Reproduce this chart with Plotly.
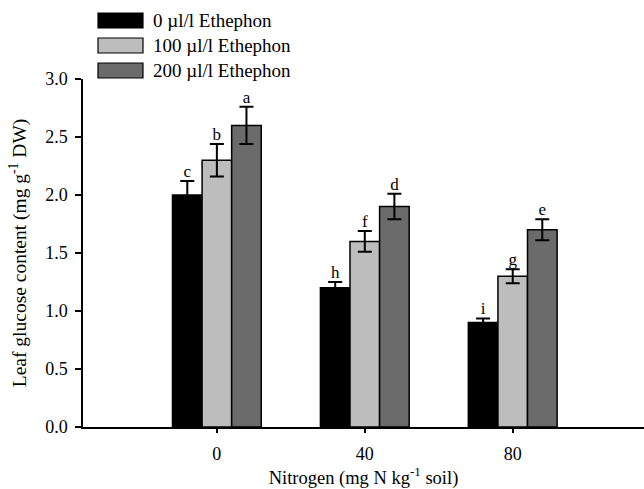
import plotly.graph_objects as go

nitrogen = [0, 40, 80]
series_names = ["0 µl/l Ethephon", "100 µl/l Ethephon", "200 µl/l Ethephon"]
eth0 = [2.00, 1.20, 0.90]
eth100 = [2.30, 1.60, 1.30]
eth200 = [2.60, 1.90, 1.70]
err0 = [0.12, 0.05, 0.035]
err100 = [0.14, 0.09, 0.06]
err200 = [0.16, 0.11, 0.09]
letters0 = ["c", "h", "i"]
letters100 = ["b", "f", "g"]
letters200 = ["a", "d", "e"]
ytick_vals = [0.0, 0.5, 1.0, 1.5, 2.0, 2.5, 3.0]
xtick_vals = [0, 40, 80]

colors = ["#000000", "#bdbdbd", "#6b6b6b"]
W, H = 644, 489
ml, mr, mt, mb = 83, 0, 79, 62
bar_w = 8
offsets = [-12, -4, 4]
FONT = "Liberation Serif"

fig = go.Figure()
values = [eth0, eth100, eth200]
errs = [err0, err100, err200]
letters = [letters0, letters100, letters200]
for i in range(3):
    fig.add_trace(go.Bar(
        x=nitrogen, y=values[i], name=series_names[i],
        width=bar_w, offset=offsets[i],
        marker=dict(color=colors[i], line=dict(color="#000000", width=1.5)),
        error_y=dict(type="data", array=errs[i], color="#000000", thickness=2, width=7),
        showlegend=False,
    ))
    fig.add_trace(go.Scatter(
        x=[n + offsets[i] + bar_w / 2 for n in nitrogen],
        y=[v + e for v, e in zip(values[i], errs[i])],
        mode="text", text=letters[i], textposition="top center",
        textfont=dict(family=FONT, size=17, color="#000000"),
        showlegend=False, hoverinfo="skip", cliponaxis=False,
    ))

pw = W - ml - mr
ph = H - mt - mb
def px2paper(px, py):
    return (px - ml) / pw, (H - mb - py) / ph

# custom legend (large swatches)
for i, name in enumerate(series_names):
    top = 13 + 25 * i
    x0, y0 = px2paper(98, top + 15)
    x1, y1 = px2paper(143, top)
    fig.add_shape(type="rect", xref="paper", yref="paper", x0=x0, y0=y0, x1=x1, y1=y1,
                  fillcolor=colors[i], line=dict(color="#000000", width=1.2))
    tx, ty = px2paper(151, top + 7.5)
    fig.add_annotation(xref="paper", yref="paper", x=tx, y=ty, text=name, showarrow=False,
                       xanchor="left", yanchor="middle",
                       font=dict(family=FONT, size=19, color="#000000"))

fig.update_layout(
    width=W, height=H,
    margin=dict(l=ml, r=mr, t=mt, b=mb, pad=0),
    plot_bgcolor="white", paper_bgcolor="white",
    font=dict(family=FONT, size=18, color="#000000"),
    showlegend=False,
    xaxis=dict(range=[-36.2, 115.5], tickvals=xtick_vals, ticktext=[str(v) for v in xtick_vals],
               showline=True, linecolor="#000000", linewidth=1.5, ticks="outside", ticklen=4,
               tickwidth=1.5, tickcolor="#000000", showgrid=False,
               zeroline=False, ticklabelstandoff=6,
               title=dict(text="Nitrogen (mg N kg<sup>-1</sup> soil)", standoff=8,
                          font=dict(family=FONT, size=18.5))),
    yaxis=dict(range=[0, 3], tickvals=ytick_vals, ticktext=[f"{v:.1f}" for v in ytick_vals],
               showline=True, linecolor="#000000", linewidth=1.5, ticks="outside", ticklen=6,
               tickwidth=1.5, tickcolor="#000000", showgrid=False, zeroline=False,
               ticklabelstandoff=4,
               title=dict(text="Leaf glucose content (mg g<sup>-1</sup> DW)", standoff=13,
                          font=dict(family=FONT, size=19.5))),
)
fig.write_html("out.html", config={"displayModeBar": False},
               post_script="document.body.style.margin='0';document.body.style.overflow='hidden';")
